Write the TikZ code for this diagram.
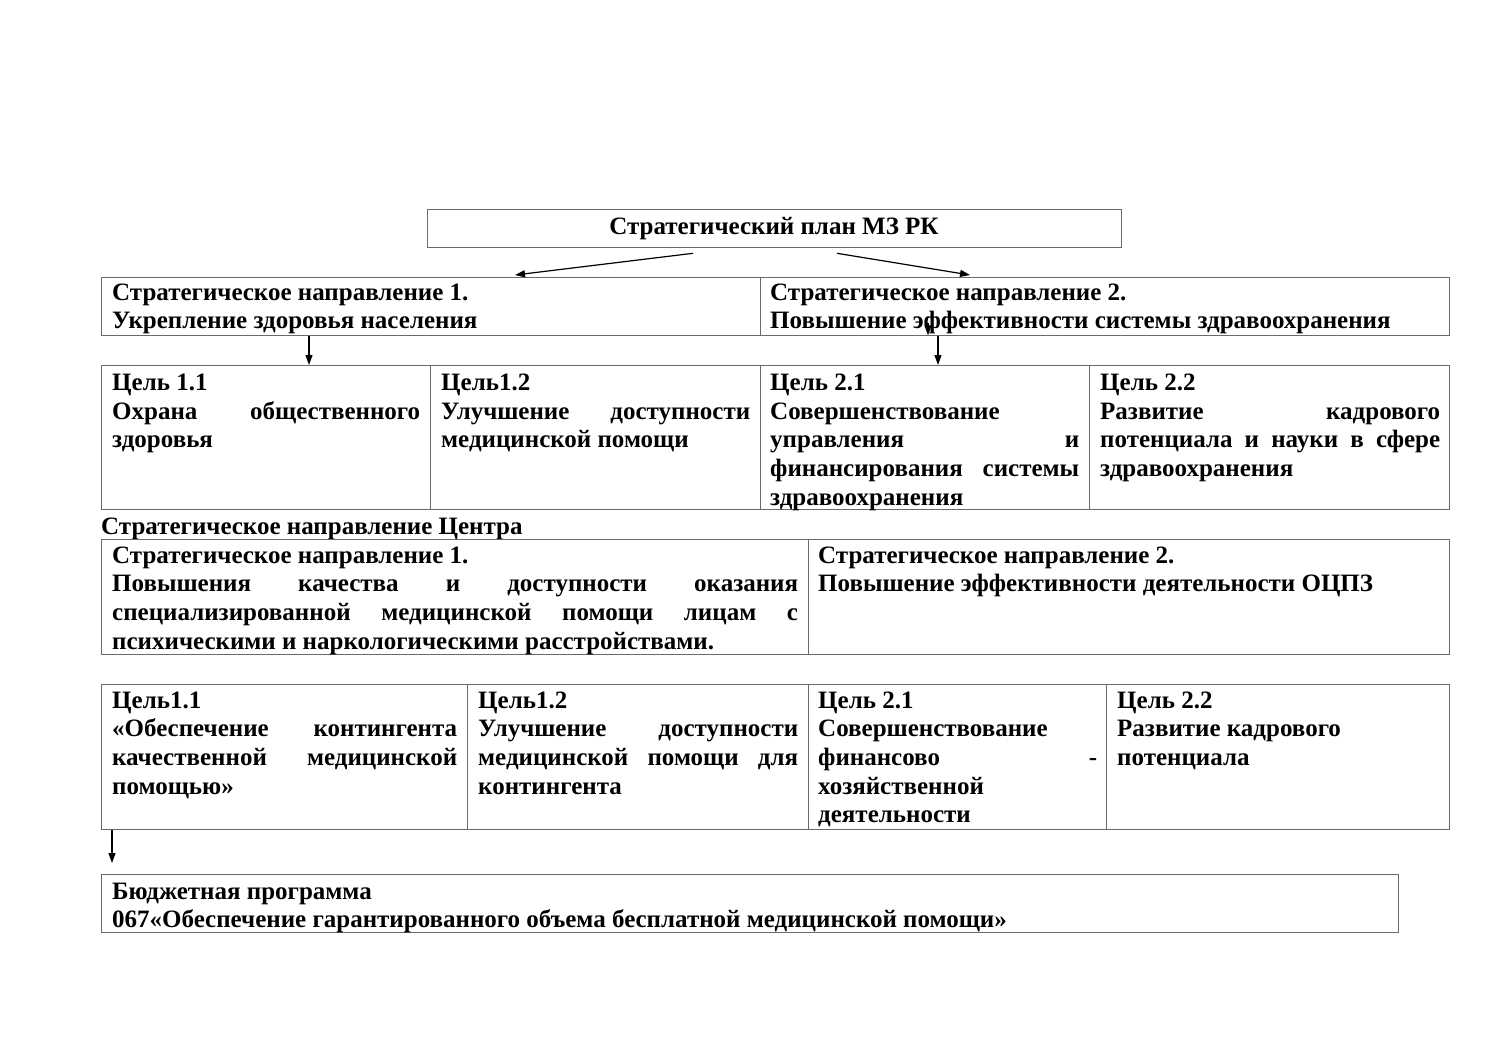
\documentclass[tikz,border=0pt]{standalone}
\usepackage{fontspec}
\setmainfont{Liberation Serif}
\usetikzlibrary{arrows.meta}
\definecolor{bordergray}{HTML}{6A6A6A}
\newcommand\jl[1]{\makebox[\linewidth][s]{#1}}
\newcommand\ptxt[2]{\parbox[t]{#1}{\raggedright #2}}
\begin{document}
\begin{tikzpicture}[x=1pt,y=-1pt,
  cellbox/.style={draw=bordergray, line width=1.3pt, inner sep=0pt, anchor=north west},
  txt/.style={anchor=base west, inner sep=0pt, font=\fontsize{25}{28.7}\selectfont\bfseries},
  arr/.style={-{Triangle[length=10pt,width=7pt]}, line width=1.2pt, black}]
\useasboundingbox[fill=white] (0,0) rectangle (1500,1061);
% top
\node[cellbox, minimum width=694pt, minimum height=38pt] (t) at (427,209) {};
\node[txt, anchor=base] (tt) at (774,234) {Стратегический план МЗ РК};
% row 2
\node[cellbox, minimum width=659pt, minimum height=58pt] (r2a) at (101,277) {};
\node[cellbox, minimum width=689pt, minimum height=58pt] (r2b) at (760,277) {};
\node[txt] (r2at) at (112,300) {\ptxt{640pt}{Стратегическое направление 1.\\Укрепление здоровья населения}};
\node[txt] (r2bt) at (770,300) {\ptxt{670pt}{Стратегическое направление 2.\\Повышение эффективности системы здравоохранения}};
% row 3
\node[cellbox, minimum width=329pt, minimum height=144pt] (c31) at (101,365) {};
\node[cellbox, minimum width=330pt, minimum height=144pt] (c32) at (430,365) {};
\node[cellbox, minimum width=329pt, minimum height=144pt] (c33) at (760,365) {};
\node[cellbox, minimum width=360pt, minimum height=144pt] (c34) at (1089,365) {};
\node[txt] (c31t) at (112,390.5) {\ptxt{308pt}{Цель 1.1\\\jl{Охрана общественного}\\здоровья}};
\node[txt] (c32t) at (441,390.5) {\ptxt{309pt}{Цель1.2\\\jl{Улучшение доступности}\\медицинской помощи}};
\node[txt] (c33t) at (770,390.5) {\ptxt{309pt}{Цель 2.1\\Совершенствование\\\jl{управления и}\\\jl{финансирования системы}\\здравоохранения}};
\node[txt] (c34t) at (1100,390.5) {\ptxt{340pt}{Цель 2.2\\\jl{Развитие кадрового}\\\jl{потенциала и науки в сфере}\\здравоохранения}};
% label
\node[txt] (lbl) at (101,534) {Стратегическое направление Центра};
% row 4
\node[cellbox, minimum width=707pt, minimum height=115pt] (r4a) at (101,539) {};
\node[cellbox, minimum width=641pt, minimum height=115pt] (r4b) at (808,539) {};
\node[txt] (r4at) at (112,563) {\ptxt{686pt}{Стратегическое направление 1.\\\jl{Повышения качества и доступности оказания}\\\jl{специализированной медицинской помощи лицам с}\\психическими и наркологическими расстройствами.}};
\node[txt] (r4bt) at (818,563) {\ptxt{620pt}{Стратегическое направление 2.\\Повышение эффективности деятельности ОЦПЗ}};
% row 5
\node[cellbox, minimum width=366pt, minimum height=145pt] (c51) at (101,684) {};
\node[cellbox, minimum width=341pt, minimum height=145pt] (c52) at (467,684) {};
\node[cellbox, minimum width=298pt, minimum height=145pt] (c53) at (808,684) {};
\node[cellbox, minimum width=343pt, minimum height=145pt] (c54) at (1106,684) {};
\node[txt] (c51t) at (112,708) {\ptxt{345pt}{Цель1.1\\\jl{«Обеспечение контингента}\\\jl{качественной медицинской}\\помощью»}};
\node[txt] (c52t) at (478,708) {\ptxt{320pt}{Цель1.2\\\jl{Улучшение доступности}\\\jl{медицинской помощи для}\\контингента}};
\node[txt] (c53t) at (818,708) {\ptxt{279pt}{Цель 2.1\\Совершенствование\\\jl{финансово -}\\хозяйственной\\деятельности}};
\node[txt] (c54t) at (1117,708) {\ptxt{320pt}{Цель 2.2\\Развитие кадрового\\потенциала}};
% bottom
\node[cellbox, minimum width=1297pt, minimum height=58pt] (b) at (101,874) {};
\node[txt] (bt) at (112,899) {\ptxt{1270pt}{Бюджетная программа\\067«Обеспечение гарантированного объема бесплатной медицинской помощи»}};
% arrows
\draw[arr] ([shift={(266,5)}]t.south west) -- ([shift={(414,-2)}]r2a.north west);
\draw[arr] ([shift={(410,5)}]t.south west) -- ([shift={(210,-2)}]r2b.north west);
\draw[arr] ([shift={(208,0)}]r2a.south west) -- ([shift={(208,0)}]c31.north west);
\draw[arr] ([shift={(168,-13)}]r2b.south west) -- ([shift={(168,-1)}]r2b.south west);
\draw[arr] ([shift={(178,0)}]r2b.south west) -- ([shift={(178,0)}]c33.north west);
\draw[arr] ([shift={(11,0)}]c51.south west) -- ([shift={(11,-11)}]b.north west);
\end{tikzpicture}
\end{document}
